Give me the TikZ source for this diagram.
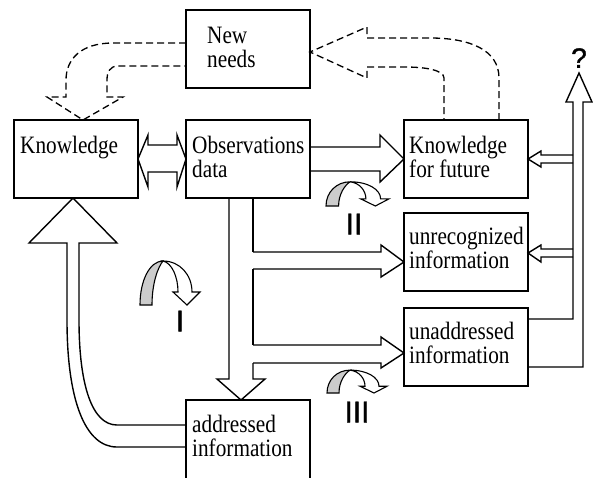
\documentclass[tikz,border=0pt]{standalone}
\usepackage{fontspec}
\setmainfont{Liberation Serif}[FakeStretch=0.85]
\newfontfamily\numfont{Liberation Sans}[FakeBold=1.2]
\usetikzlibrary{positioning, calc}
\tikzset{
  blk/.style={draw, rectangle, line width=1.6pt, minimum width=124pt, minimum height=78pt, inner sep=0pt, outer sep=0pt},
  txt/.style={anchor=base west, inner sep=0pt, font=\fontsize{25}{24.5}\selectfont},
  hollow/.style={draw, line width=1.4pt, line join=miter},
  hint/.style={draw, line width=1.3pt, dash pattern=on 7pt off 4pt},
  roman/.style={inner sep=0pt, font=\numfont\fontsize{30}{30}\selectfont},
  % half-turn ribbon arrow
  twist/.pic={
    \draw[line width=1.1pt, fill=gray!40] (0,0) .. controls (0,-25) and (10,-44) .. (23,-44)
      .. controls (18,-38) and (12,-22) .. (12,0) -- cycle;
    \draw[line width=1.1pt, fill=white] (23,-44) .. controls (40,-44) and (52,-30) .. (52,-13)
      -- (60,-13) -- (47,0) -- (33,-13) -- (38,-13) .. controls (38,-28) and (32,-42) .. (23,-44) -- cycle;
  }
}
\newcommand{\twoline}[2]{\parbox[t]{150pt}{#1\\#2}}

\begin{document}
\begin{tikzpicture}[x=1pt, y=-1pt]
  \clip (0,0) rectangle (593,477);
  % boxes
  \node[blk, anchor=north west] (know) at (14,120) {};
  \node[blk, right=48pt of know] (obs) {};
  \node[blk, above=32pt of obs] (need) {};
  \node[blk, right=94pt of obs] (future) {};
  \node[blk, below=15pt of future] (unrec) {};
  \node[blk, below=17pt of unrec] (unaddr) {};
  \node[blk, below=202pt of obs, minimum height=90pt] (addr) {};
  % texts
  \node[txt] (knowtext) at ($(know.north west)+(6,33)$) {Knowledge};
  \node[txt] (obstext) at ($(obs.north west)+(6,33)$) {\twoline{Observations}{data}};
  \node[txt] (needtext) at ($(need.north west)+(21,33)$) {\twoline{New}{needs}};
  \node[txt] (futuretext) at ($(future.north west)+(5,33)$) {\twoline{Knowledge}{for future}};
  \node[txt] (unrectext) at ($(unrec.north west)+(5,31)$) {\twoline{unrecognized}{information}};
  \node[txt] (unaddrtext) at ($(unaddr.north west)+(5,31)$) {\twoline{unaddressed}{information}};
  \node[txt] (addrtext) at ($(addr.north west)+(6,32)$) {\twoline{addressed}{information}};
  \node[roman] (one) at (180,321) {I};
  \node[roman] (two) at (354,224) {II};
  \node[roman] (three) at (357,412) {III};
  \node[inner sep=0pt, font=\numfont\fontsize{28}{28}\selectfont] (query) at (579,58) {?};
  % hollow arrows
  \draw[hollow] (know.east) -- (148,135) -- (148,145) -- (177,145) -- (177,135) -- (obs.west)
    -- (177,187) -- (177,172) -- (148,172) -- (148,187) -- cycle;
  \draw[hollow] (310,147) -- (380,147) -- (380,135) -- (future.west) -- (380,182) -- (380,171) -- (310,171);
  \draw[hollow] (229,198) -- (229,379) -- (217,379) -- (241,400) -- (265,379) -- (253,379) -- (253,363);
  \draw[hollow] (253,345) -- (253,269);
  \draw[hollow] (253,252) -- (253,198);
  \draw[hollow] (253,252) -- (381,252) -- (381,245) -- (404,262) -- (381,277) -- (381,269) -- (253,269);
  \draw[hollow] (253,345) -- (381,345) -- (381,337) -- (404,353) -- (381,368) -- (381,363) -- (253,363);
  \draw[hollow] (addr.west |- 0,447) -- (117,447) .. controls (85,447) and (67,400) .. (67,320) -- (67,243)
    -- (29,243) -- (73,198) -- (117,243) -- (79,243) -- (79,320) .. controls (79,385) and (92,425) .. (117,425)
    -- (addr.west |- 0,425);
  \draw[hollow] (unaddr.east |- 0,319) -- (573,319) -- (573,102) -- (566,102) -- (579,73) -- (592,102)
    -- (583,102) -- (583,367) -- (unaddr.east |- 0,367);
  \draw[hollow] (573,155) -- (541,155) -- (541,151) -- (future.east |- 0,159) -- (541,167) -- (541,163) -- (573,163);
  \draw[hollow] (573,249) -- (541,249) -- (541,245) -- (unrec.east |- 0,253) -- (541,262) -- (541,257) -- (573,257);
  % dashed arrows
  \draw[hint] (future.north -| 499,0) -- (499,78) .. controls (499,50) and (470,38) .. (430,38) -- (367,38)
    -- (367,27) -- (need.east |- 0,52) -- (367,78) -- (367,67) -- (405,67) .. controls (425,67) and (444,70) .. (444,78)
    -- (future.north -| 444,0);
  \draw[hint] (need.west |- 0,43) -- (113,43) .. controls (80,43) and (66,60) .. (66,80) -- (66,97)
    -- (47,97) -- (know.north -| 83,0) -- (123,97) -- (107,97) -- (107,80) .. controls (107,72) and (110,66) .. (118,66)
    -- (need.west |- 0,66);
  % turn markers
  \pic at (140,305) {twist};
  \pic[xscale=1.05, yscale=0.55] at (326,206) {twist};
  \pic[yscale=0.52] at (327,393) {twist};
\end{tikzpicture}
\end{document}
